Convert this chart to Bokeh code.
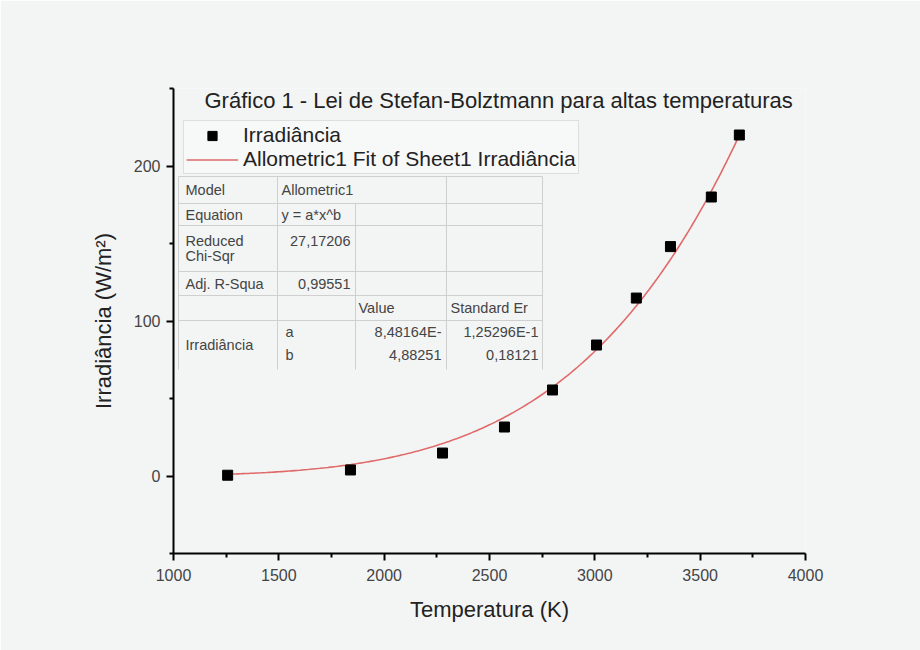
from bokeh.plotting import figure
from bokeh.models import Label, BoxAnnotation, Legend, LegendItem, ColumnDataSource, FixedTicker
from bokeh.embed import file_html
from bokeh.resources import INLINE
import numpy as np

# ---- data ----
temperatura = [1257, 1840, 2277, 2571, 2799, 3008, 3197, 3359, 3553, 3686]
irradiancia = [0.5, 3.9, 14.8, 31.6, 55.5, 84.5, 114.8, 148.0, 180.0, 220.0]

# allometric fit parameters shown in the table (y = a*x^b)
fit_a = 8.48164e-16
fit_b = 4.88251

x_major = [1000, 1500, 2000, 2500, 3000, 3500, 4000]
x_minor = [1250, 1750, 2250, 2750, 3250, 3750]
y_major = [0, 100, 200]
y_minor = [-50, 50, 150, 250]

title_text = "Gráfico 1 - Lei de Stefan-Bolztmann para altas temperaturas"
x_label = "Temperatura (K)"
y_label = "Irradiância (W/m²)"
legend_labels = ["Irradiância", "Allometric1 Fit of Sheet1 Irradiância"]

table_rows = [
    ["Model", "Allometric1", "", ""],
    ["Equation", "y = a*x^b", "", ""],
    ["Reduced\nChi-Sqr", "27,17206", "", ""],
    ["Adj. R-Squa", "0,99551", "", ""],
    ["", "", "Value", "Standard Er"],
]
param_group = "Irradiância"
param_names = ["a", "b"]
param_values = ["8,48164E-", "4,88251"]
param_errors = ["1,25296E-1", "0,18121"]

# ---- figure ----
BG = "#f3f5f5"
FONT = "Liberation Sans"

W, H = 920, 650
FL, FR, FT, FB = 173, 805, 88, 553   # frame edges on the picture

p = figure(width=W, height=H, x_range=(1000, 4000), y_range=(-50, 250),
           output_backend="svg", toolbar_location=None, tools="",
           min_border_left=FL, min_border_right=W - FR,
           min_border_top=FT, min_border_bottom=H - FB)
p.background_fill_color = BG
p.border_fill_color = BG
p.outline_line_color = None
p.grid.visible = False

for ax in (p.xaxis[0], p.yaxis[0]):
    ax.axis_line_width = 2
    ax.axis_line_color = "black"
    ax.major_tick_line_width = 2
    ax.major_tick_line_color = "black"
    ax.minor_tick_line_width = 2
    ax.minor_tick_line_color = "black"
    ax.major_tick_in = 0
    ax.major_tick_out = 7
    ax.minor_tick_in = 0
    ax.minor_tick_out = 4
    ax.major_label_text_font = FONT
    ax.major_label_text_font_size = "16px"
    ax.major_label_text_color = "#444444"
    ax.axis_label_text_font = FONT
    ax.axis_label_text_font_size = "22px"
    ax.axis_label_text_font_style = "normal"
    ax.axis_label_text_color = "#222222"

p.xaxis.ticker = FixedTicker(ticks=x_major, minor_ticks=x_minor)
p.yaxis.ticker = FixedTicker(ticks=y_major, minor_ticks=y_minor)
p.xaxis.axis_label = x_label
p.yaxis.axis_label = y_label
p.xaxis.major_label_standoff = 8
p.xaxis.axis_label_standoff = 13
p.yaxis.major_label_standoff = 6
p.yaxis.axis_label_standoff = 15

src = ColumnDataSource(dict(x=temperatura, y=irradiancia))
fit_x = np.linspace(min(temperatura), max(temperatura), 200)
fit_src = ColumnDataSource(dict(x=fit_x, y=fit_a * fit_x ** fit_b))

r_fit = p.line("x", "y", source=fit_src, line_color="#e06a6a", line_width=1.6)
r_pts = p.scatter("x", "y", source=src, marker="square", size=10,
                  fill_color="black", line_color="black")

def sx(px):
    return px - FL
def sy(py):
    return FB - py

legend = Legend(items=[LegendItem(label=legend_labels[0], renderers=[r_pts]),
                       LegendItem(label=legend_labels[1], renderers=[r_fit])],
                location=(sx(183), sy(174)), margin=0, padding=2, spacing=0,
                glyph_width=52, glyph_height=23, label_height=23, label_standoff=5,
                label_text_font=FONT, label_text_font_size="21px", label_text_color="#222222",
                background_fill_color="#f7f8f8", background_fill_alpha=1,
                border_line_color="#c4c4c4", border_line_width=1)
p.add_layout(legend)

p.add_layout(Label(x=sx(204), y=sy(100), x_units="screen", y_units="screen",
                   text=title_text, text_font=FONT, text_font_size="22px",
                   text_color="#222222", text_baseline="middle", text_align="left"))

# ---- parameter table ----
LINE = "#cfcfcf"
def hline(x0, x1, py):
    p.add_layout(BoxAnnotation(left=sx(x0), right=sx(x1), bottom=sy(py) - 0.5, top=sy(py) + 0.5,
                               left_units="screen", right_units="screen",
                               bottom_units="screen", top_units="screen",
                               fill_color=LINE, fill_alpha=1, line_alpha=0))
def vline(px, y0, y1):
    p.add_layout(BoxAnnotation(left=sx(px) - 0.5, right=sx(px) + 0.5, bottom=sy(y1), top=sy(y0),
                               left_units="screen", right_units="screen",
                               bottom_units="screen", top_units="screen",
                               fill_color=LINE, fill_alpha=1, line_alpha=0))

col_x = [178, 277, 355, 446, 542]
row_y = [176, 203, 225, 271, 295, 320, 369]
hline(col_x[0], col_x[-1], row_y[0])
for yy in row_y[1:6]:
    hline(col_x[0], col_x[-1], yy)
vline(col_x[0], row_y[0], row_y[-1])
vline(col_x[1], row_y[0], row_y[-1])
vline(col_x[2], row_y[1], row_y[-1])
vline(col_x[3], row_y[0], row_y[-1])
vline(col_x[4], row_y[0], row_y[-1])

def tlabel(px, py, text, align="left", size="14.5px"):
    p.add_layout(Label(x=sx(px), y=sy(py), x_units="screen", y_units="screen", text=text,
                       text_font=FONT, text_font_size=size, text_color="#444444",
                       text_baseline="middle", text_align=align))

row_centers = [189, 214, 0, 283, 307]
for i, row in enumerate(table_rows):
    if i == 2:
        tlabel(185, 240, "Reduced")
        tlabel(185, 255, "Chi-Sqr")
        tlabel(350, 240, row[1], align="right")
        continue
    yc = row_centers[i]
    if row[0]:
        tlabel(185, yc, row[0])
    if row[1]:
        if i < 2:
            tlabel(281, yc, row[1])
        else:
            tlabel(350, yc, row[1], align="right")
    if row[2]:
        tlabel(358, yc, row[2])
    if row[3]:
        tlabel(450, yc, row[3])

tlabel(185, 344, param_group)
for j, yc in enumerate([331, 354]):
    tlabel(285, yc, param_names[j])
    tlabel(441, yc, param_values[j], align="right")
    tlabel(538, yc, param_errors[j], align="right")

open("out.html", "w").write(file_html(p, INLINE))
